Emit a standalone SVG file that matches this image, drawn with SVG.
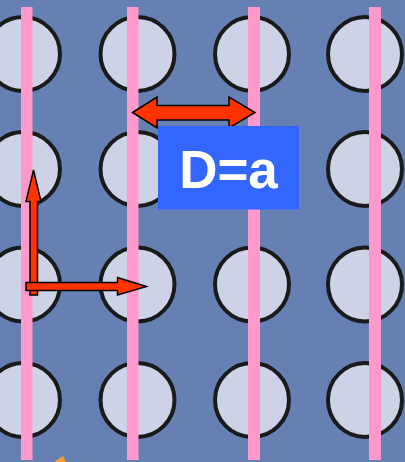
<svg xmlns="http://www.w3.org/2000/svg" width="405" height="462" viewBox="0 0 405 462">
<style>
.bg{fill:#6680b3}
.hole{fill:#cdd2e6;stroke:#1a1a1a;stroke-width:4}
.line{fill:#ff99cc}
.arrow{fill:#ff3300;stroke:#000;stroke-width:1.5;stroke-linejoin:miter}
.box{fill:#3366ff}
.lbl{font-family:"Liberation Sans",Arial,sans-serif;font-weight:bold;font-size:53px;fill:#fff}
</style>
<rect class="bg" x="0" y="0" width="405" height="462"/>
<g id="holes">
<circle class="hole" cx="23" cy="54" r="37"/><circle class="hole" cx="137.5" cy="54" r="37"/><circle class="hole" cx="252" cy="54" r="37"/><circle class="hole" cx="365" cy="54" r="37"/>
<circle class="hole" cx="23" cy="169" r="37"/><circle class="hole" cx="137.5" cy="169" r="37"/><circle class="hole" cx="252" cy="169" r="37"/><circle class="hole" cx="365" cy="169" r="37"/>
<circle class="hole" cx="23" cy="284.5" r="37"/><circle class="hole" cx="137.5" cy="284.5" r="37"/><circle class="hole" cx="252" cy="284.5" r="37"/><circle class="hole" cx="365" cy="284.5" r="37"/>
<circle class="hole" cx="23" cy="400" r="37"/><circle class="hole" cx="137.5" cy="400" r="37"/><circle class="hole" cx="252" cy="400" r="37"/><circle class="hole" cx="365" cy="400" r="37"/>
</g>
<g id="lines">
<rect class="line" x="21" y="7" width="11.5" height="453"/>
<rect class="line" x="127" y="7" width="11.5" height="453"/>
<rect class="line" x="248" y="7" width="12" height="453"/>
<rect class="line" x="369" y="7" width="12" height="453"/>
</g>
<g id="connectors">
<polygon class="arrow" points="132.5,112.5 157,97 157,105.5 229,105.5 229,97 255,112.5 229,128 229,120 157,120 157,128"/>
<polygon class="arrow" points="33.5,170 41,201.5 37.5,201.5 37.5,295 30,295 30,201.5 26,201.5"/>
<polygon class="arrow" points="26,282.5 117.5,282.5 117.5,277.5 146.5,286.5 117.5,295 117.5,290.5 26,290.5"/>
</g>
<g id="label">
<rect class="box" x="158" y="126" width="141" height="83.5"/>
<text class="lbl" x="228.5" y="188" text-anchor="middle">D=a</text>
</g>
<polygon fill="#ff9933" points="54,462 63,456 66,462"/>
</svg>
